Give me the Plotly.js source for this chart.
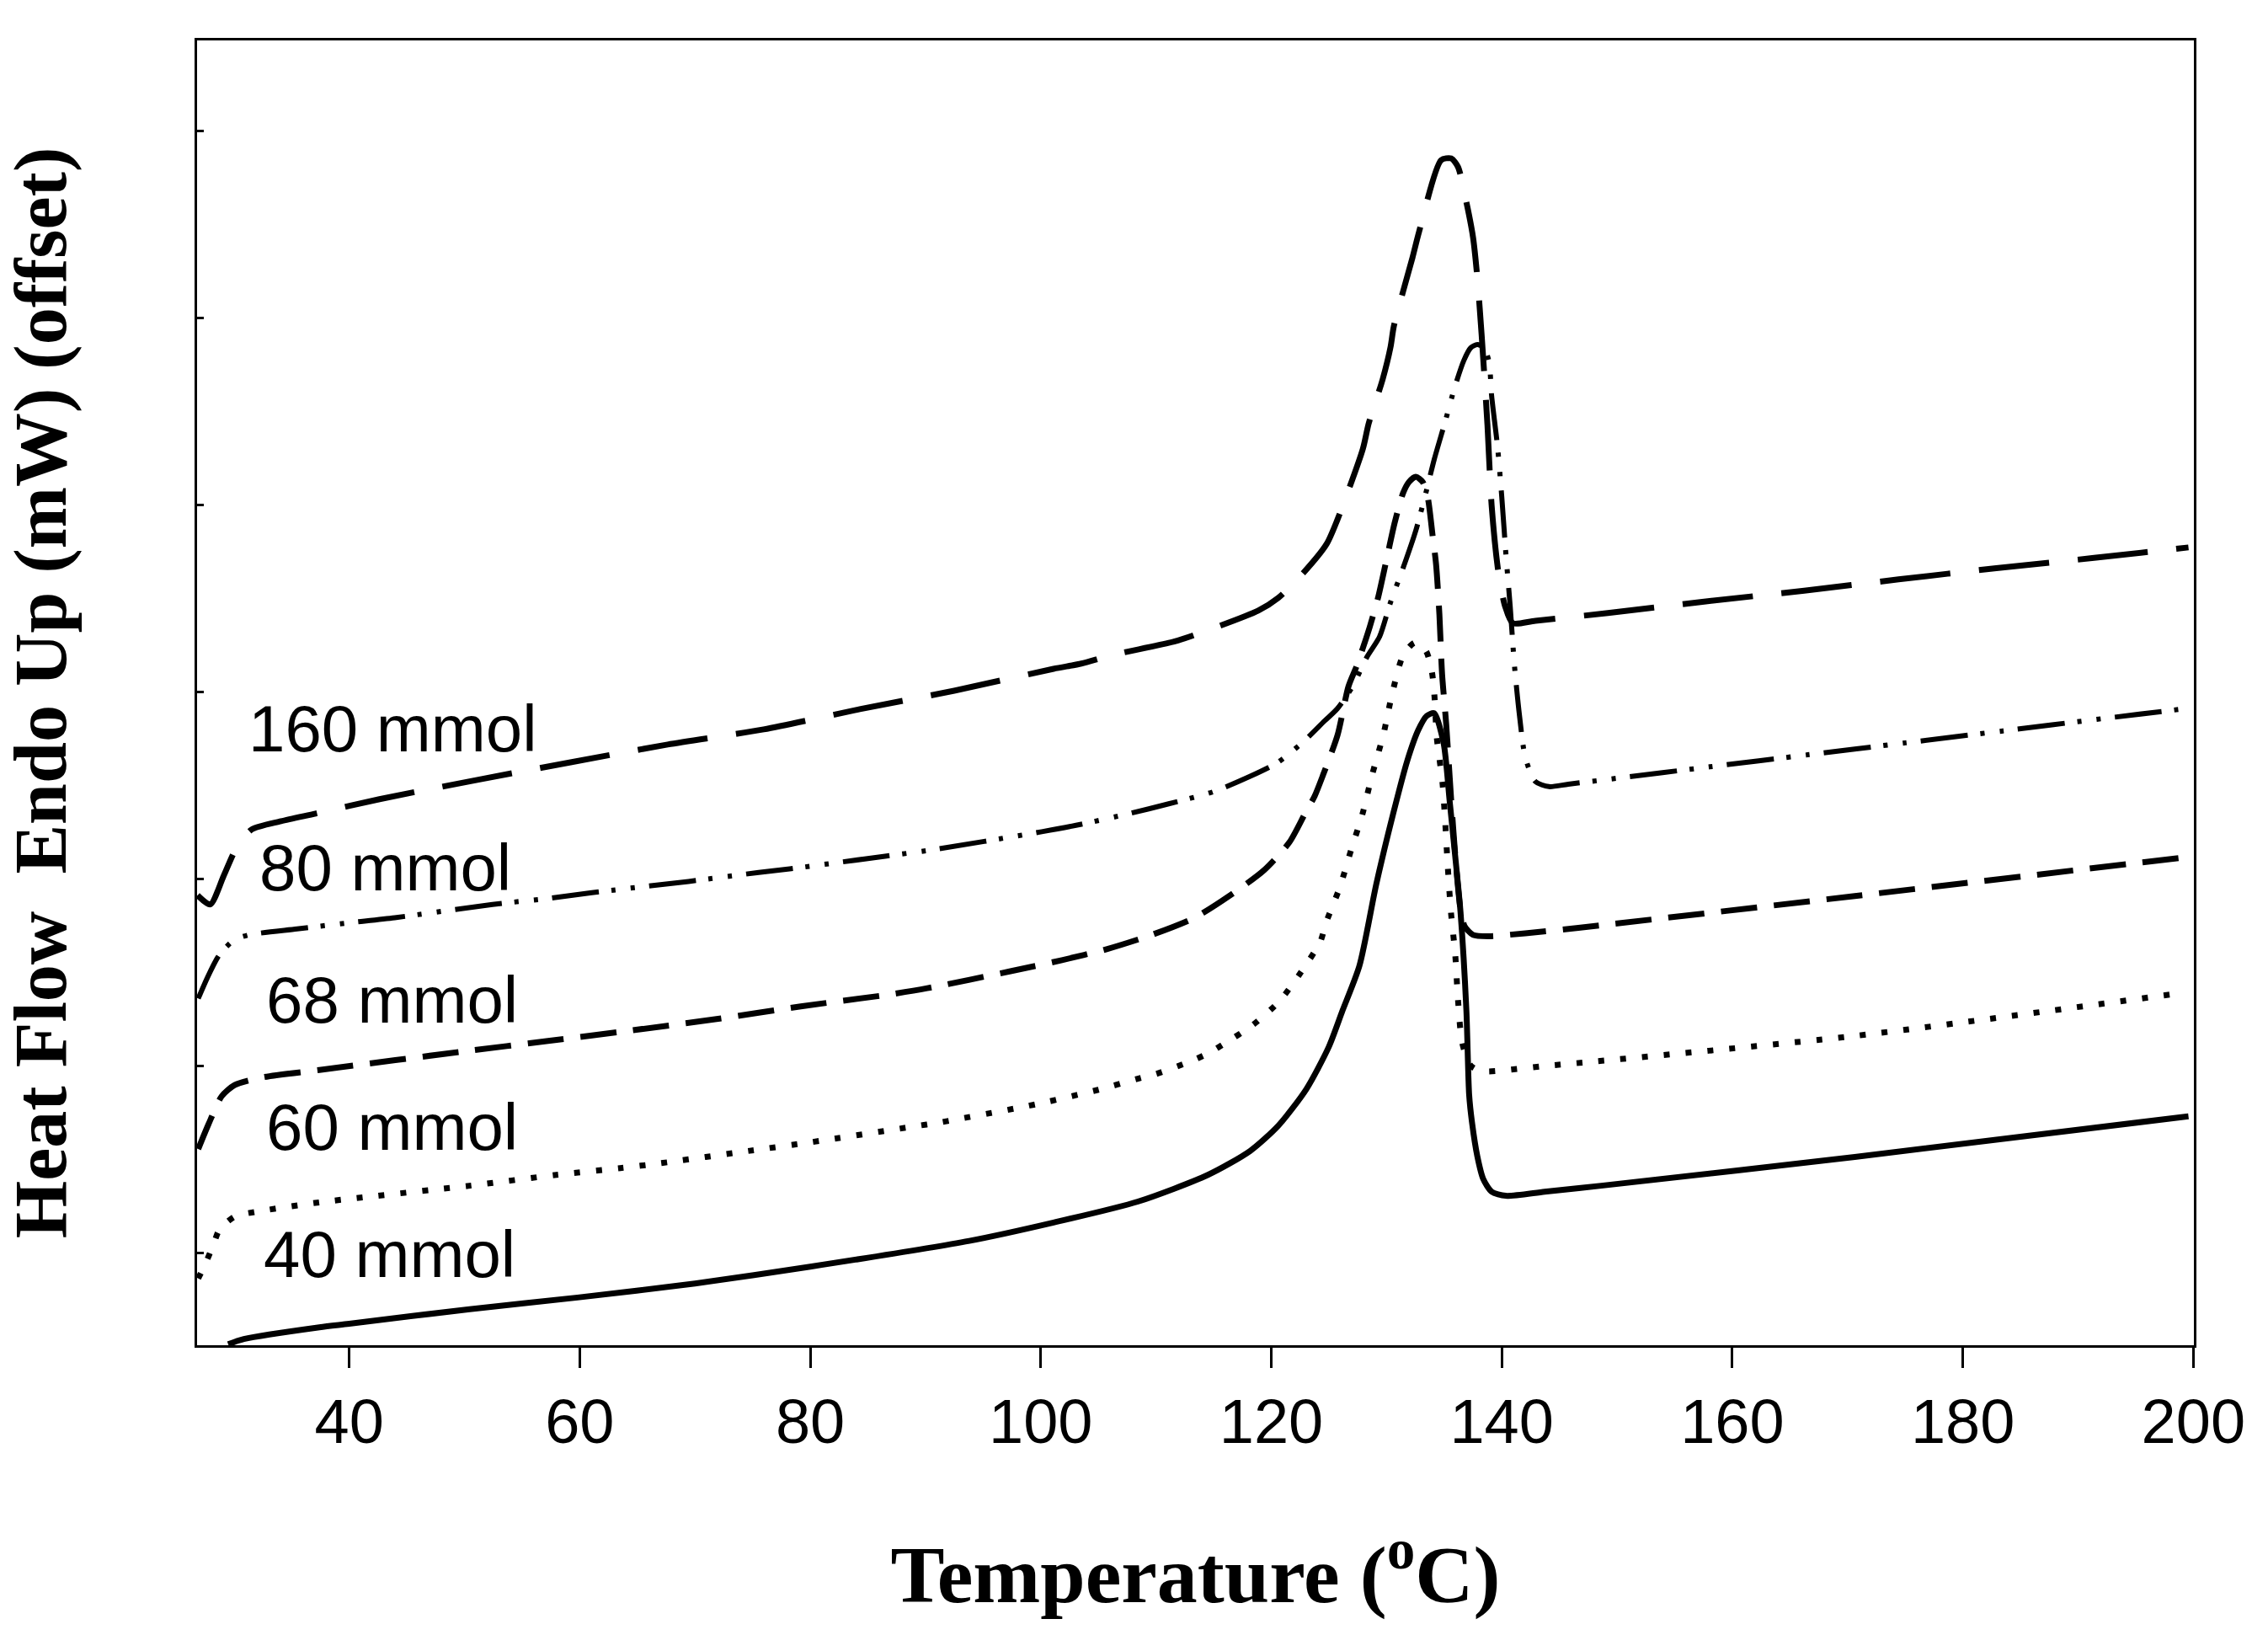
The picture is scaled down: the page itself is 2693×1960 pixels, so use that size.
<!DOCTYPE html>
<html>
<head>
<meta charset="utf-8">
<script src="https://cdn.plot.ly/plotly-3.0.1.min.js"></script>
<style>html,body{margin:0;padding:0;background:#fff;}#chart{width:2693px;height:1960px;}</style>
</head>
<body>
<div id="chart"></div>
<script>
// Temperature (°C) and offset heat flow values
const temp40 = [29.5, 30.86, 37.41, 40, 50.45, 59.81, 70, 80, 93.80, 101.11, 108.42, 114.51, 118.17, 120.61, 123.04, 124.99, 126.18, 127.65, 129.11, 130.57, 131.81, 132.76, 133.49, 134.13, 134.96, 135.47, 135.96, 136.42, 136.93, 137.17, 137.42, 137.88, 138.39, 139.12, 140.34, 143.73, 148.63, 170.63, 199.58];
const heat40 = [-0.49, -0.462, -0.399, -0.380, -0.302, -0.240, -0.165, -0.075, 0.063, 0.161, 0.273, 0.416, 0.544, 0.679, 0.874, 1.100, 1.294, 1.534, 1.970, 2.345, 2.632, 2.795, 2.870, 2.885, 2.722, 2.420, 2.120, 1.821, 1.294, 0.844, 0.695, 0.515, 0.394, 0.326, 0.304, 0.326, 0.358, 0.512, 0.729];

const temp60 = [26.9, 27.52, 28.21, 28.74, 30.06, 31.86, 37.41, 50.45, 57.98, 63.52, 66.97, 74.77, 80, 89.42, 91.1, 98.19, 100.09, 104.99, 108.42, 110.03, 113.03, 114.49, 115.73, 118.43, 120.70, 122.46, 124.26, 124.72, 125.96, 126.91, 127.91, 128.74, 129.74, 130.47, 131.44, 132.46, 133.42, 133.93, 134.15, 134.37, 134.86, 135.10, 135.32, 135.59, 135.96, 136.20, 136.56, 137.29, 138.25, 143.73, 170.63, 198.41];
const heat60 = [-0.138, -0.059, 0.042, 0.123, 0.193, 0.218, 0.269, 0.358, 0.416, 0.452, 0.478, 0.545, 0.590, 0.679, 0.695, 0.776, 0.80, 0.871, 0.930, 0.956, 1.024, 1.065, 1.110, 1.219, 1.344, 1.489, 1.663, 1.759, 1.956, 2.150, 2.345, 2.552, 2.773, 2.983, 3.194, 3.262, 3.218, 3.109, 2.983, 2.750, 2.510, 2.294, 2.060, 1.821, 1.596, 1.354, 1.123, 1.001, 0.971, 0.998, 1.159, 1.384];

const temp68 = [26.9, 27.78, 28.93, 30.06, 32.35, 37.41, 50.45, 57.25, 64.56, 71.87, 79.18, 86.49, 90.15, 97.46, 101.84, 105.72, 109.66, 113.32, 116.46, 119.39, 121.58, 122.89, 123.77, 124.50, 125.75, 126.70, 127.43, 128.53, 129.26, 129.99, 130.72, 131.45, 131.96, 132.54, 133.13, 133.57, 134.01, 134.30, 134.59, 134.82, 135.18, 135.61, 136.05, 136.42, 136.78, 137.51, 138.90, 142.05, 146.65, 170.63, 199.58];
const heat68 = [0.554, 0.685, 0.836, 0.896, 0.936, 0.977, 1.080, 1.132, 1.189, 1.249, 1.317, 1.377, 1.414, 1.506, 1.564, 1.623, 1.700, 1.790, 1.912, 2.046, 2.195, 2.343, 2.442, 2.555, 2.767, 3.028, 3.140, 3.343, 3.501, 3.703, 3.906, 4.064, 4.122, 4.149, 4.122, 4.041, 3.829, 3.681, 3.411, 3.095, 2.825, 2.420, 2.060, 1.835, 1.745, 1.699, 1.692, 1.708, 1.737, 1.907, 2.116];

const temp80 = [26.9, 27.72, 28.6, 29.09, 30.06, 31.37, 35.47, 39.85, 43.95, 52.43, 57.25, 61.05, 69.44, 75.53, 78.21, 86.49, 90.15, 100.09, 103.06, 107.69, 111.1, 115.0, 118.14, 120.48, 122.68, 124.62, 125.72, 127.06, 128.30, 129.40, 130.35, 131.45, 132.54, 133.42, 134.15, 135.10, 135.91, 136.71, 137.30, 137.88, 138.46, 138.90, 139.12, 139.63, 140.0, 140.37, 140.73, 141.10, 141.54, 142.05, 142.92, 144.09, 145.77, 149.50, 158.05, 166.54, 175.01, 183.49, 192.05, 199.58];
const heat80 = [1.359, 1.474, 1.580, 1.620, 1.674, 1.700, 1.731, 1.763, 1.791, 1.862, 1.894, 1.925, 1.985, 2.033, 2.052, 2.120, 2.150, 2.251, 2.285, 2.348, 2.400, 2.465, 2.546, 2.618, 2.726, 2.843, 2.908, 3.028, 3.185, 3.294, 3.478, 3.663, 3.861, 4.064, 4.244, 4.446, 4.626, 4.771, 4.838, 4.856, 4.838, 4.762, 4.581, 4.311, 4.041, 3.726, 3.456, 3.140, 2.870, 2.645, 2.519, 2.492, 2.505, 2.533, 2.598, 2.662, 2.726, 2.790, 2.855, 2.911];

const temp160 = [26.84, 27.94, 29.11, 30.20, 31.52, 34.08, 37.08, 42.63, 51.11, 59.30, 67.63, 75.96, 84.30, 92.49, 101.11, 103.52, 105.62, 107.11, 111.57, 113.54, 118.87, 120.61, 122.80, 124.80, 125.75, 127.94, 128.45, 129.67, 130.35, 130.64, 132.25, 132.83, 134.74, 135.61, 136.20, 136.93, 137.51, 137.88, 138.25, 138.76, 139.12, 139.71, 140.29, 140.95, 142.92, 149.21, 157.40, 166.24, 174.43, 182.91, 191.39, 199.58];
const heat160 = [1.911, 1.862, 2.015, 2.163, 2.262, 2.307, 2.348, 2.425, 2.528, 2.623, 2.717, 2.798, 2.906, 3.005, 3.122, 3.150, 3.186, 3.208, 3.268, 3.307, 3.433, 3.501, 3.636, 3.789, 3.921, 4.296, 4.433, 4.671, 4.843, 4.955, 5.320, 5.460, 5.842, 5.851, 5.806, 5.617, 5.428, 5.212, 4.910, 4.424, 3.996, 3.636, 3.456, 3.366, 3.379, 3.420, 3.480, 3.540, 3.600, 3.660, 3.715, 3.771];

const seriesLabels = ['160 mmol', '80 mmol', '68 mmol', '60 mmol', '40 mmol'];
const labelTemp = [31.13, 32.09, 32.68, 32.68, 32.45];
const labelHeat = [2.800, 2.060, 1.353, 0.670, -0.010];

const xTicks = [40, 60, 80, 100, 120, 140, 160, 180, 200];
const yTicks = [0, 1, 2, 3, 4, 5, 6];

const black = '#000000';
function line(x, y, name, width, dash) {
  return {x: x, y: y, name: name, type: 'scatter', mode: 'lines',
          line: {color: black, width: width, dash: dash, shape: 'spline', smoothing: 0.7},
          hoverinfo: 'skip'};
}

const traces = [
  line(temp160, heat160, '160 mmol', 7, '84px,34px'),
  line(temp80, heat80, '80 mmol', 6, '56px,15px,5px,18px,5px,17px'),
  line(temp68, heat68, '68 mmol', 7, '43px,20px'),
  line(temp60, heat60, '60 mmol', 7, '7px,19px'),
  line(temp40, heat40, '40 mmol', 7, 'solid')
];

const annotations = seriesLabels.map((t, i) => ({
  x: labelTemp[i], y: labelHeat[i], xref: 'x', yref: 'y', text: t,
  showarrow: false, xanchor: 'left', yanchor: 'middle',
  font: {family: 'Liberation Sans, Arial, sans-serif', size: 78, color: black}
}));

const layout = {
  width: 2693, height: 1960,
  margin: {l: 234, r: 88, t: 48, b: 363, pad: 0},
  paper_bgcolor: '#ffffff', plot_bgcolor: '#ffffff',
  showlegend: false,
  xaxis: {
    range: [26.8, 200.05], tickvals: xTicks, ticktext: xTicks.map(String),
    ticks: 'outside', ticklen: 24, tickwidth: 3, tickcolor: black,
    showline: true, linewidth: 3, linecolor: black, mirror: true,
    showgrid: false, zeroline: false,
    tickfont: {family: 'Liberation Sans, Arial, sans-serif', size: 74, color: black},
    title: {text: 'Temperature (<sup>o</sup>C)', standoff: 108,
            font: {family: 'Liberation Serif, Times New Roman, serif', size: 96, color: black, weight: 'bold'}}
  },
  yaxis: {
    range: [-0.495, 6.482], tickvals: yTicks, showticklabels: false,
    ticks: 'inside', ticklen: 8, tickwidth: 3, tickcolor: black,
    showline: true, linewidth: 3, linecolor: black, mirror: true,
    showgrid: false, zeroline: false,
    title: {text: 'Heat Flow\u00a0\u00a0Endo Up (mW) (offset)', standoff: 130,
            font: {family: 'Liberation Serif, Times New Roman, serif', size: 88, color: black, weight: 'bold'}}
  },
  annotations: annotations
};

Plotly.newPlot('chart', traces, layout, {staticPlot: true, displayModeBar: false});
</script>
</body>
</html>
